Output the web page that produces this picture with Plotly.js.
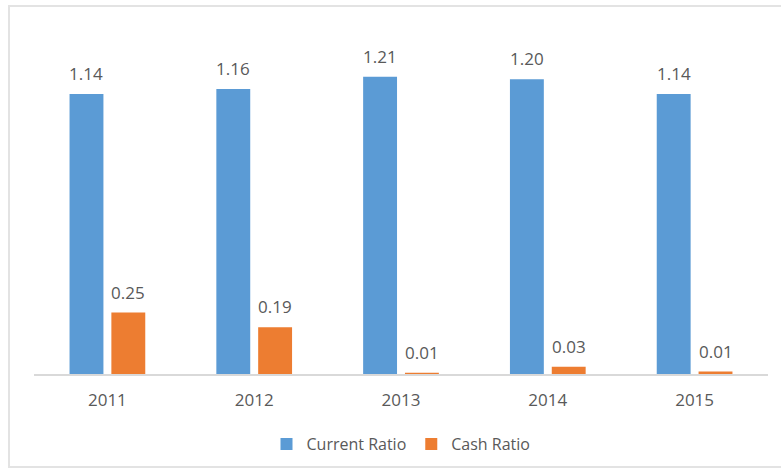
<!DOCTYPE html>
<html>
<head>
<meta charset="utf-8">
<script src="https://cdn.plot.ly/plotly-3.0.1.min.js"></script>
<style>
  html, body { margin: 0; padding: 0; background: #ffffff; }
  #wrap { position: relative; width: 781px; height: 472px; overflow: hidden; }
  #chart { position: absolute; left: 0; top: 0; width: 781px; height: 472px; }
  #frame { position: absolute; left: 8px; top: 5px; width: 790px; height: 459px;
           border: 2px solid #e3e3e3; pointer-events: none; }
</style>
</head>
<body>
<div id="wrap">
  <div id="chart"></div>
  <div id="frame"></div>
</div>
<script>
const years = ["2011", "2012", "2013", "2014", "2015"];
const currentRatio = [1.14, 1.16, 1.21, 1.20, 1.14];
const cashRatio = [0.25, 0.19, 0.005, 0.03, 0.01];
const seriesNames = ["Current Ratio", "Cash Ratio"];
const seriesColors = ["#5b9bd5", "#ed7d31"];

const FONT = "'Open Sans', 'Noto Sans', sans-serif";
const TXT = "#595959";
const FS = 17;

const traces = [
  { type: "bar", x: years, y: currentRatio, name: seriesNames[0],
    marker: { color: seriesColors[0] }, hoverinfo: "none" },
  { type: "bar", x: years, y: cashRatio, name: seriesNames[1],
    marker: { color: seriesColors[1] }, hoverinfo: "none" }
];

const annotations = [];
[currentRatio, cashRatio].forEach((vals, si) => {
  vals.forEach((v, i) => {
    annotations.push({
      x: i, y: v, xref: "x", yref: "y",
      text: v.toFixed(2), showarrow: false,
      xanchor: "center", yanchor: "bottom",
      xshift: si === 0 ? -21 : 21, yshift: 7,
      font: { family: FONT, size: FS, color: TXT }
    });
  });
});

const layout = {
  width: 781, height: 472,
  margin: { l: 34, r: 13, t: 30, b: 97 },
  paper_bgcolor: "rgba(0,0,0,0)", plot_bgcolor: "rgba(0,0,0,0)",
  barmode: "group", bargap: 0.43, bargroupgap: 0.19,
  font: { family: FONT, size: FS, color: TXT },
  xaxis: { type: "category", range: [-0.5, years.length - 0.5], autorange: false,
           showline: true, linecolor: "#d9d9d9", linewidth: 1.5, layer: "above traces",
           ticks: "", showgrid: false, zeroline: false, ticklabelstandoff: 10,
           tickfont: { family: FONT, size: FS, color: TXT } },
  yaxis: { range: [0, 1.4], autorange: false, visible: false, showgrid: false, zeroline: false },
  showlegend: true,
  legend: { orientation: "h", x: 0.5, xanchor: "center", y: -0.2, yanchor: "middle",
            font: { family: FONT, size: FS - 1, color: TXT }, itemwidth: 30 },
  annotations: annotations
};

Plotly.newPlot("chart", traces, layout, { displayModeBar: false, staticPlot: true });
</script>
</body>
</html>
